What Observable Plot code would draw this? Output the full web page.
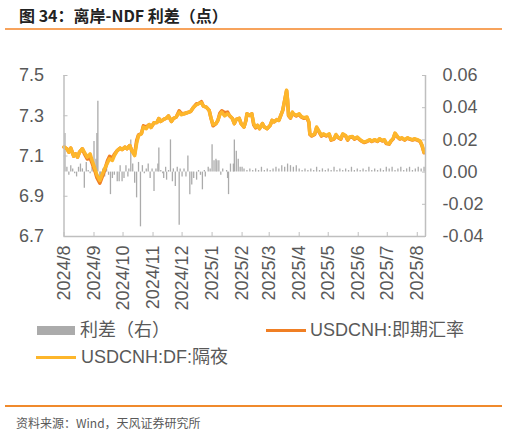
<!DOCTYPE html>
<html><head><meta charset="utf-8">
<script src="https://cdn.jsdelivr.net/npm/d3@7"></script>
<script src="https://cdn.jsdelivr.net/npm/@observablehq/plot@0.6"></script>
<style>
body{margin:0;width:508px;height:434px;position:relative;background:#fff;overflow:hidden;font-family:"Liberation Sans",Arial,"Noto Sans CJK SC",sans-serif}
.abs{position:absolute}
#title{left:19px;top:4px;font-size:16px;font-weight:bold;color:#222;font-family:"Noto Sans CJK SC",sans-serif;line-height:22px;white-space:nowrap}
#rule1{left:5px;top:28px;width:497px;height:2px;background:#F7A35C}
#chart{left:0;top:0}
.leg{font-size:18px;color:#595959;line-height:22px;white-space:nowrap;font-family:"Liberation Sans",Arial,"Noto Sans CJK SC",sans-serif}
#rule2{left:5px;top:405px;width:497px;height:1.5px;background:#F08A2C}
#src{left:16px;top:414px;font-size:12px;color:#595959;line-height:18px;white-space:nowrap;font-family:"Noto Sans CJK SC",sans-serif}
</style></head>
<body>
<div id="title" class="abs">图 34：离岸-NDF 利差（点）</div>
<div id="rule1" class="abs"></div>
<div id="chart" class="abs"></div>
<div class="abs" style="left:37px;top:326px;width:38px;height:9px;background:#ababab"></div>
<div class="abs leg" style="left:80px;top:319px">利差（右）</div>
<div class="abs" style="left:266px;top:328.5px;width:40px;height:3px;background:#F07F24"></div>
<div class="abs leg" style="left:310px;top:319px">USDCNH:即期汇率</div>
<div class="abs" style="left:36px;top:355.5px;width:40px;height:3px;background:#FDB62B"></div>
<div class="abs leg" style="left:81px;top:346px">USDCNH:DF:隔夜</div>
<div id="rule2" class="abs"></div>
<div id="src" class="abs">资料来源：Wind，天风证券研究所</div>
<script>
const dates = ["2024-08-01","2024-08-04","2024-08-06","2024-08-08","2024-08-11","2024-08-13","2024-08-15","2024-08-17","2024-08-20","2024-08-22",
"2024-08-25","2024-08-28","2024-08-30","2024-09-02","2024-09-04","2024-09-07","2024-09-09","2024-09-12","2024-09-15","2024-09-17",
"2024-09-20","2024-09-22","2024-09-25","2024-09-28","2024-09-30","2024-10-03","2024-10-05","2024-10-08","2024-10-10","2024-10-13",
"2024-10-15","2024-10-17","2024-10-20","2024-10-22","2024-10-25","2024-10-28","2024-10-30","2024-11-02","2024-11-05","2024-11-07",
"2024-11-09","2024-11-12","2024-11-15","2024-11-17","2024-11-20","2024-11-22","2024-11-25","2024-11-28","2024-11-30","2024-12-03",
"2024-12-06","2024-12-08","2024-12-10","2024-12-13","2024-12-16","2024-12-18","2024-12-21","2024-12-23","2024-12-26","2024-12-29",
"2024-12-31","2025-01-02","2025-01-05","2025-01-07","2025-01-09","2025-01-11","2025-01-14","2025-01-17","2025-01-19","2025-01-22",
"2025-01-24","2025-01-26","2025-01-29","2025-01-31","2025-02-03","2025-02-05","2025-02-06","2025-02-09","2025-02-11","2025-02-13",
"2025-02-15","2025-02-17","2025-02-19","2025-02-22","2025-02-24","2025-02-27","2025-03-02","2025-03-04","2025-03-06","2025-03-09",
"2025-03-11","2025-03-13","2025-03-15","2025-03-17","2025-03-19","2025-03-20","2025-03-21","2025-03-23","2025-03-25","2025-03-26",
"2025-03-29","2025-04-01","2025-04-03","2025-04-06","2025-04-09","2025-04-11","2025-04-12","2025-04-14","2025-04-17","2025-04-19",
"2025-04-21","2025-04-24","2025-04-26","2025-04-29","2025-05-02","2025-05-04","2025-05-07","2025-05-09","2025-05-11","2025-05-14",
"2025-05-16","2025-05-19","2025-05-21","2025-05-23","2025-05-26","2025-05-28","2025-05-31","2025-06-03","2025-06-05","2025-06-07",
"2025-06-10","2025-06-13","2025-06-15","2025-06-18","2025-06-21","2025-06-23","2025-06-26","2025-06-28","2025-06-30","2025-07-03",
"2025-07-05","2025-07-07","2025-07-09","2025-07-12","2025-07-14","2025-07-16","2025-07-19","2025-07-22","2025-07-24","2025-07-27",
"2025-07-29","2025-08-01","2025-08-04","2025-08-06","2025-08-08"];
const df = [7.144,7.136,7.119,7.139,7.099,7.111,7.094,7.119,7.136,7.119,
7.094,7.111,7.078,7.036,7.006,6.978,7.003,7.036,7.066,7.086,
7.078,7.102,7.127,7.139,7.132,7.144,7.136,7.152,7.127,7.102,
7.161,7.202,7.211,7.244,7.236,7.256,7.242,7.265,7.266,7.286,
7.272,7.282,7.289,7.299,7.272,7.286,7.294,7.318,7.305,7.310,
7.315,7.318,7.322,7.343,7.355,7.360,7.365,7.348,7.343,7.327,
7.286,7.256,7.261,7.277,7.305,7.318,7.299,7.310,7.302,7.286,
7.261,7.282,7.287,7.261,7.244,7.277,7.310,7.302,7.310,7.261,
7.244,7.252,7.236,7.261,7.244,7.236,7.252,7.277,7.269,7.281,
7.277,7.302,7.327,7.377,7.427,7.377,7.302,7.290,7.318,7.310,
7.302,7.310,7.297,7.290,7.294,7.269,7.210,7.202,7.210,7.244,
7.227,7.202,7.210,7.202,7.210,7.181,7.186,7.207,7.194,7.186,
7.210,7.202,7.181,7.194,7.197,7.186,7.194,7.181,7.174,7.169,
7.174,7.181,7.174,7.181,7.174,7.186,7.177,7.181,7.164,7.161,
7.177,7.186,7.214,7.194,7.186,7.191,7.181,7.191,7.186,7.181,
7.186,7.181,7.174,7.152,7.119];
const spot = [7.144,7.136,7.119,7.139,7.099,7.111,7.094,7.119,7.136,7.112,
7.085,7.090,7.065,7.025,6.992,6.965,6.990,7.030,7.078,7.098,
7.090,7.108,7.127,7.139,7.132,7.144,7.136,7.152,7.127,7.110,
7.175,7.205,7.211,7.250,7.245,7.256,7.242,7.265,7.266,7.286,
7.272,7.282,7.289,7.299,7.272,7.286,7.294,7.325,7.312,7.310,
7.315,7.318,7.322,7.343,7.360,7.360,7.370,7.348,7.343,7.327,
7.286,7.250,7.261,7.277,7.312,7.325,7.315,7.318,7.300,7.286,
7.261,7.282,7.287,7.261,7.244,7.277,7.310,7.302,7.310,7.255,
7.240,7.252,7.236,7.261,7.244,7.236,7.252,7.277,7.269,7.281,
7.277,7.302,7.327,7.377,7.425,7.377,7.300,7.288,7.316,7.307,
7.299,7.307,7.294,7.287,7.291,7.266,7.207,7.199,7.207,7.241,
7.224,7.199,7.207,7.199,7.207,7.179,7.184,7.204,7.192,7.184,
7.207,7.199,7.179,7.192,7.195,7.184,7.192,7.179,7.172,7.167,
7.172,7.179,7.172,7.179,7.172,7.184,7.175,7.179,7.162,7.159,
7.175,7.184,7.211,7.192,7.184,7.189,7.179,7.189,7.184,7.179,
7.184,7.179,7.172,7.150,7.116];
const spreadDates = ["2024-08-02","2024-08-04","2024-08-06","2024-08-08","2024-08-10","2024-08-12","2024-08-14","2024-08-16","2024-08-18","2024-08-20",
"2024-08-22","2024-08-24","2024-08-26","2024-08-28","2024-08-30","2024-09-01","2024-09-03","2024-09-04","2024-09-05","2024-09-07",
"2024-09-08","2024-09-10","2024-09-12","2024-09-14","2024-09-16","2024-09-18","2024-09-20","2024-09-22","2024-09-25","2024-09-27",
"2024-09-28","2024-09-30","2024-10-02","2024-10-04","2024-10-06","2024-10-07","2024-10-09","2024-10-11","2024-10-13","2024-10-15",
"2024-10-17","2024-10-19","2024-10-21","2024-10-23","2024-10-25","2024-10-27","2024-10-29","2024-10-31","2024-11-02","2024-11-04",
"2024-11-06","2024-11-07","2024-11-09","2024-11-11","2024-11-12","2024-11-14","2024-11-15","2024-11-17","2024-11-19","2024-11-21",
"2024-11-22","2024-11-24","2024-11-26","2024-11-28","2024-11-29","2024-12-01","2024-12-03","2024-12-05","2024-12-07","2024-12-09",
"2024-12-11","2024-12-13","2024-12-16","2024-12-18","2024-12-20","2024-12-22","2024-12-24","2024-12-25","2024-12-28","2024-12-30",
"2025-01-01","2025-01-03","2025-01-05","2025-01-06","2025-01-08","2025-01-10","2025-01-12","2025-01-16","2025-01-17","2025-01-18",
"2025-01-20","2025-01-23","2025-01-24","2025-01-26","2025-01-28","2025-01-30","2025-02-01",
"2025-02-03","2025-02-06","2025-02-09","2025-02-12","2025-02-15","2025-02-18","2025-02-21","2025-02-24","2025-02-27","2025-03-02",
"2025-03-05","2025-03-08","2025-03-11","2025-03-14","2025-03-17","2025-03-20","2025-03-23","2025-03-26","2025-03-29","2025-04-01",
"2025-04-04","2025-04-07","2025-04-10","2025-04-13","2025-04-16","2025-04-19","2025-04-22","2025-04-25","2025-04-28","2025-05-01",
"2025-05-04","2025-05-07","2025-05-10","2025-05-13","2025-05-16","2025-05-19","2025-05-22","2025-05-25","2025-05-28","2025-05-31",
"2025-06-03","2025-06-06","2025-06-09","2025-06-12","2025-06-15","2025-06-18","2025-06-21","2025-06-24","2025-06-27","2025-06-30",
"2025-07-03","2025-07-06","2025-07-09","2025-07-12","2025-07-15","2025-07-18","2025-07-21","2025-07-24","2025-07-27","2025-07-30",
"2025-08-02","2025-08-05","2025-08-08"];
const spread = [0.024,0.003,-0.002,0.004,0.002,-0.001,-0.003,0.003,0.005,0.002,
-0.010,0.006,0.001,-0.001,0.003,0.019,0.008,0.024,0.044,-0.004,
-0.005,0.002,-0.003,0.004,-0.002,-0.014,-0.004,-0.002,-0.006,-0.006,
0.004,-0.006,-0.004,0.004,-0.003,0.002,0.020,0.005,-0.007,-0.016,
0.006,-0.034,0.004,-0.001,0.002,0.005,-0.004,0.002,-0.012,0.002,
0.005,0.015,0.001,-0.001,-0.004,0.003,-0.005,0.001,0.020,-0.006,
0.002,-0.009,0.003,-0.033,0.002,-0.003,0.002,-0.003,0.010,-0.014,
-0.008,-0.004,-0.005,0.001,-0.002,-0.011,0.001,-0.003,0.003,0.002,
0.017,0.007,0.008,0.007,0.007,-0.002,0.002,0.001,-0.004,-0.014,
0.005,0.005,0.020,0.013,0.008,0.003,0.003,
0.002,0.001,0.002,0.001,0.002,0.001,0.003,0.001,0.002,0.001,
0.002,0.003,0.002,0.004,0.003,0.005,0.004,0.003,0.004,0.002,
0.001,0.002,0.001,0.002,0.001,0.003,0.001,0.002,0.001,0.002,
0.001,0.003,0.001,0.002,0.001,0.002,0.001,0.003,0.001,0.002,
0.001,0.002,0.001,0.003,0.001,0.002,0.001,0.002,0.001,0.003,
0.002,0.003,0.001,0.002,0.003,0.001,0.002,0.003,0.001,0.002,
0.003,0.002,0.003];
const leftTicks = [6.7, 6.9, 7.1, 7.3, 7.5];
const rightTicks = [-0.04, -0.02, 0, 0.02, 0.04, 0.06];
const monthTicks = ["2024-08-01","2024-09-01","2024-10-01","2024-11-01","2024-12-01","2025-01-01","2025-02-01","2025-03-01","2025-04-01","2025-05-01","2025-06-01","2025-07-01","2025-08-01"];
const xDomain = ["2024-08-01","2025-08-09T12:00"];

const toL = v => 6.7 + (v + 0.04) * 8;
const lineData = dates.map((d,i)=>({date:new Date(d), spot:spot[i], df:df[i]}));
const barData = spreadDates.map((d,i)=>({date:new Date(d), v:spread[i]}));
const axisColor = "#bfbfbf";
const chart = Plot.plot({
  width:508, height:315, marginLeft:63.5, marginRight:83, marginTop:75, marginBottom:79,
  x:{type:"utc", domain:xDomain.map(d=>new Date(d))},
  y:{domain:[6.7,7.5]},
  style:{fontFamily:"'Liberation Sans', Arial, sans-serif", fontSize:"18px", color:"#595959", background:"transparent", overflow:"visible"},
  marks:[
    Plot.ruleX(barData,{x:"date", y1:d=>toL(0), y2:d=>toL(d.v), stroke:"#ababab", strokeWidth:1.3}),
    Plot.line(lineData,{x:"date", y:"spot", stroke:"#F07F24", strokeWidth:3.5}),
    Plot.line(lineData,{x:"date", y:"df", stroke:"#FDB62B", strokeWidth:3.5}),
    Plot.ruleX([new Date(xDomain[0]), new Date(xDomain[1])],{stroke:axisColor, strokeWidth:1.5}),
    Plot.ruleY([6.7],{stroke:axisColor, strokeWidth:1.5}),
    Plot.axisY(leftTicks,{anchor:"left", tickSize:-4, tickPadding:24, stroke:axisColor, tickFormat:d=>d.toFixed(1)}),
    Plot.axisY(rightTicks.map(toL),{anchor:"right", tickSize:-4, tickPadding:21, stroke:axisColor, tickFormat:d=>(Math.round(((d-6.7)/8-0.04)*100)/100).toFixed(2)}),
    Plot.axisX(monthTicks.map(d=>new Date(d)),{anchor:"bottom", tickSize:-4, tickPadding:13, tickRotate:-90, stroke:axisColor, tickFormat:d3.utcFormat("%Y/%-m")})
  ]
});
document.getElementById("chart").appendChild(chart);
</script>
</body></html>
